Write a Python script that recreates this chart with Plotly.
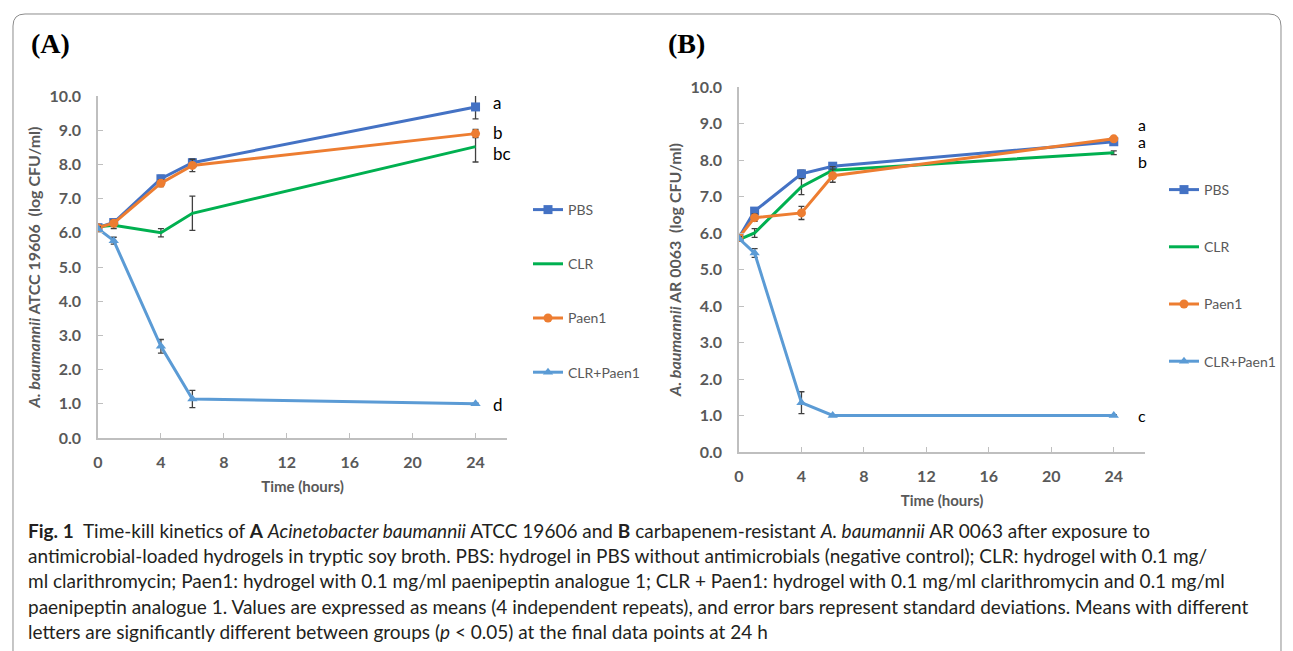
import plotly.graph_objects as go

# ---------------- data ----------------
time_h = [0, 1, 4, 6, 24]
series_names = ["PBS", "CLR", "Paen1", "CLR+Paen1"]

A_PBS = [6.15, 6.30, 7.58, 8.05, 9.68]
A_PBS_sd = [0.05, 0.10, 0.10, 0.12, 0.35]
A_CLR = [6.18, 6.22, 6.00, 6.57, 8.52]
A_CLR_sd = [0.05, 0.10, 0.12, 0.50, 0.45]
A_Paen1 = [6.15, 6.28, 7.45, 7.97, 8.90]
A_Paen1_sd = [0.05, 0.10, 0.10, 0.18, 0.12]
A_Combo = [6.12, 5.77, 2.68, 1.14, 1.00]
A_Combo_sd = [0.05, 0.10, 0.20, 0.25, 0.02]

B_PBS = [5.88, 6.60, 7.62, 7.83, 8.50]
B_PBS_sd = [0.05, 0.08, 0.10, 0.10, 0.06]
B_CLR = [5.82, 6.00, 7.27, 7.72, 8.20]
B_CLR_sd = [0.05, 0.12, 0.22, 0.10, 0.05]
B_Paen1 = [5.88, 6.42, 6.55, 7.57, 8.58]
B_Paen1_sd = [0.05, 0.10, 0.18, 0.18, 0.05]
B_Combo = [5.85, 5.45, 1.35, 1.00, 1.00]
B_Combo_sd = [0.05, 0.12, 0.30, 0.02, 0.02]

A_letters = ["a", "b", "bc", "d"]
A_letter_y = [9.8, 8.92, 8.33, 0.97]
B_letters = ["a", "a", "b", "c"]
B_letter_y = [8.97, 8.52, 7.95, 1.0]

x_ticks = [0, 4, 8, 12, 16, 20, 24]
y_ticks = [0, 1, 2, 3, 4, 5, 6, 7, 8, 9, 10]

# ---------------- styles ----------------
colors = {"PBS": "#4472C4", "CLR": "#00B050", "Paen1": "#ED7D31", "CLR+Paen1": "#5B9BD5"}
symbols = {"PBS": "square", "CLR": None, "Paen1": "circle", "CLR+Paen1": "triangle-up"}
OFF = 8                      # page body margin
W, H = 1293 - OFF, 651 - OFF
ERR_COLOR = "#404040"


def px_x(p):
    return (p - OFF) / W


def px_y(p):
    return 1 - (p - OFF) / H


fig = go.Figure()

panels = [
    ("x", "y", "legend", [A_PBS, A_CLR, A_Paen1, A_Combo], [A_PBS_sd, A_CLR_sd, A_Paen1_sd, A_Combo_sd]),
    ("x2", "y2", "legend2", [B_PBS, B_CLR, B_Paen1, B_Combo], [B_PBS_sd, B_CLR_sd, B_Paen1_sd, B_Combo_sd]),
]

for xa, ya, leg, vals, sds in panels:
    for name, v, sd in zip(series_names, vals, sds):
        sym = symbols[name]
        fig.add_trace(go.Scatter(
            x=time_h, y=v, name=name, xaxis=xa, yaxis=ya, legend=leg,
            legendgroup=leg + name,
            mode="lines+markers" if sym else "lines",
            line=dict(color=colors[name], width=3),
            marker=dict(symbol=sym or "circle", size=9, color=colors[name]),
            error_y=dict(type="data", array=sd, visible=True, color=ERR_COLOR, thickness=1.3, width=3),
            showlegend=True,
        ))

axis_common = dict(
    showgrid=False, zeroline=False, showline=True, linecolor="#BFBFBF", linewidth=1.5,
    ticks="inside", ticklen=5, tickcolor="#BFBFBF", tickwidth=1.2, automargin=False,
    tickfont=dict(family="Lato", size=16, color="#595959", weight="bold"),
)

fig.update_layout(
    width=W, height=H, margin=dict(l=0, r=0, t=0, b=0, pad=0, autoexpand=False),
    paper_bgcolor="white", plot_bgcolor="white",
    xaxis=dict(domain=[px_x(98), px_x(507)], range=[0, 26], tickvals=x_ticks, anchor="y",
               ticklabelstandoff=9,
               title=dict(text="<b>Time (hours)</b>", standoff=12,
                          font=dict(family="Lato", size=15, color="#595959")),
               **axis_common),
    yaxis=dict(domain=[px_y(438), px_y(96)], range=[0, 10], tickvals=y_ticks, tickformat=".1f",
               anchor="x", ticklabelstandoff=12,
               title=dict(text="<b><i>A. baumannii</i> ATCC 19606  (log CFU/ml)</b>", standoff=5,
                          font=dict(family="Lato", size=16, color="#595959")),
               **axis_common),
    xaxis2=dict(domain=[px_x(739), px_x(1145)], range=[0, 26], tickvals=x_ticks, anchor="y2",
                ticklabelstandoff=9,
                title=dict(text="<b>Time (hours)</b>", standoff=12,
                           font=dict(family="Lato", size=15, color="#595959")),
                **axis_common),
    yaxis2=dict(domain=[px_y(452), px_y(87)], range=[0, 10], tickvals=y_ticks, tickformat=".1f",
                anchor="x2", ticklabelstandoff=12,
                title=dict(text="<b><i>A. baumannii</i> AR 0063  (log CFU/ml)</b>", standoff=5,
                           font=dict(family="Lato", size=16, color="#595959")),
                **axis_common),
    legend=dict(x=px_x(528), y=px_y(194), xanchor="left", yanchor="top",
                font=dict(family="Lato", size=14, color="#595959"),
                tracegroupgap=33, itemwidth=30, bgcolor="rgba(0,0,0,0)"),
    legend2=dict(x=px_x(1164), y=px_y(174), xanchor="left", yanchor="top",
                 font=dict(family="Lato", size=14, color="#595959"),
                 tracegroupgap=36, itemwidth=30, bgcolor="rgba(0,0,0,0)"),
    showlegend=True,
)

annotations = []
for txt, yv in zip(A_letters, A_letter_y):
    annotations.append(dict(x=24, y=yv, xref="x", yref="y", text=txt, showarrow=False,
                            xanchor="left", xshift=15, font=dict(family="Lato", size=17, color="black")))
for txt, yv in zip(B_letters, B_letter_y):
    annotations.append(dict(x=24, y=yv, xref="x2", yref="y2", text=txt, showarrow=False,
                            xanchor="left", xshift=22, font=dict(family="Lato", size=16, color="black")))

annotations.append(dict(x=px_x(29), y=px_y(43), xref="paper", yref="paper", text="<b>(A)</b>",
                        showarrow=False, xanchor="left", yanchor="middle",
                        font=dict(family="Liberation Serif", size=28, color="black")))
annotations.append(dict(x=px_x(666), y=px_y(43), xref="paper", yref="paper", text="<b>(B)</b>",
                        showarrow=False, xanchor="left", yanchor="middle",
                        font=dict(family="Liberation Serif", size=28, color="black")))

caption_lines = [
    "<b>Fig. 1</b>  Time-kill kinetics of <b>A</b> <i>Acinetobacter baumannii</i> ATCC 19606 and <b>B</b> carbapenem-resistant <i>A. baumannii</i> AR 0063 after exposure to",
    "antimicrobial-loaded hydrogels in tryptic soy broth. PBS: hydrogel in PBS without antimicrobials (negative control); CLR: hydrogel with 0.1 mg/",
    "ml clarithromycin; Paen1: hydrogel with 0.1 mg/ml paenipeptin analogue 1; CLR + Paen1: hydrogel with 0.1 mg/ml clarithromycin and 0.1 mg/ml",
    "paenipeptin analogue 1. Values are expressed as means (4 independent repeats), and error bars represent standard deviations. Means with different",
    "letters are significantly different between groups (<i>p</i> < 0.05) at the final data points at 24 h",
]
caption_y = [530, 555, 580, 606, 631]
for line, yy in zip(caption_lines, caption_y):
    annotations.append(dict(x=px_x(26), y=px_y(yy), xref="paper", yref="paper", text=line,
                            showarrow=False, xanchor="left", yanchor="middle",
                            font=dict(family="Lato", size=19, color="#231F20")))
fig.update_layout(annotations=annotations)

# rounded outer frame
r = 12
x0, y0, x1, y1 = 13, 14, 1281, 660


def P(x, y):
    return f"{px_x(x):.5f},{px_y(y):.5f}"


path = (f"M {P(x0, y1)} L {P(x0, y0 + r)} Q {P(x0, y0)} {P(x0 + r, y0)} "
        f"L {P(x1 - r, y0)} Q {P(x1, y0)} {P(x1, y0 + r)} L {P(x1, y1)}")
fig.add_shape(type="path", path=path, xref="paper", yref="paper", line=dict(color="#8C8C8C", width=1))

fig.write_html("out.html")
